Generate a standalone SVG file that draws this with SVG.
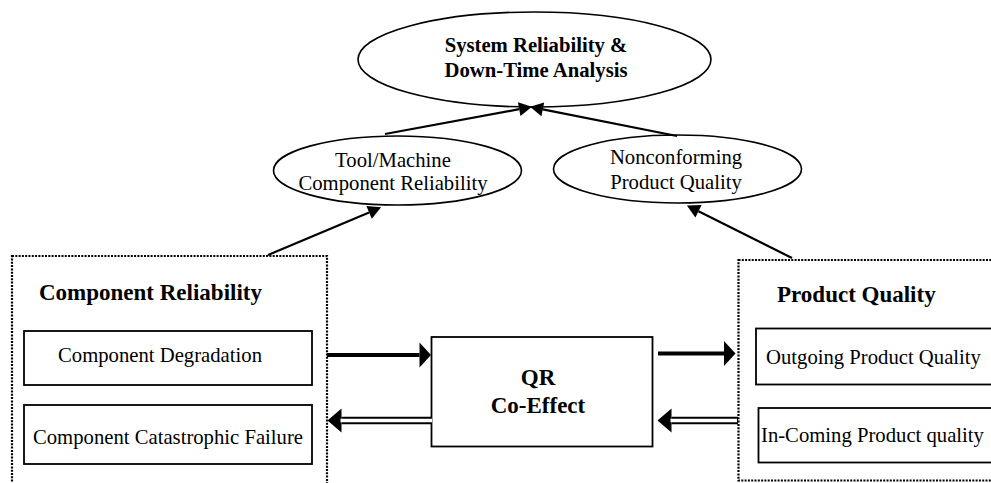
<svg xmlns="http://www.w3.org/2000/svg" width="991" height="483" viewBox="0 0 991 483">
<style>
  text { font-family: "Liberation Serif", "Times New Roman", serif; fill: #000; }
  .reg { font-size: 20.7px; }
  .title { font-size: 20.7px; font-weight: bold; }
  .head { font-size: 23px; font-weight: bold; }
  .shape { fill: #fff; stroke: #000; stroke-width: 1.8; }
  .ell { fill: #fff; stroke: #000; stroke-width: 1.6; }
  .group { fill: none; stroke: #000; stroke-width: 2.2; stroke-dasharray: 2 1.3; }
  .thin { fill: none; stroke: #000; stroke-width: 2.2; }
  .thick { fill: none; stroke: #000; stroke-width: 4; }
  .dbl { fill: none; stroke: #000; stroke-width: 7.6; }
  .dblgap { fill: none; stroke: #fff; stroke-width: 3.6; }
</style>
<defs>
  <marker id="hSmall" markerUnits="userSpaceOnUse" markerWidth="14" markerHeight="14" refX="0" refY="7" orient="auto" overflow="visible">
    <path d="M0,0 L13,7 L0,14 Z" fill="#000"/>
  </marker>
  <marker id="hBig" markerUnits="userSpaceOnUse" markerWidth="12" markerHeight="25" refX="0" refY="12.5" orient="auto" overflow="visible">
    <path d="M0,0 L11.5,12.5 L0,25 Z" fill="#000"/>
  </marker>
  <marker id="hDbl" markerUnits="userSpaceOnUse" markerWidth="14" markerHeight="24" refX="0" refY="12" orient="auto" overflow="visible">
    <path d="M0,0 L14,12 L0,24 Z" fill="#000"/>
  </marker>
</defs>
<rect width="991" height="483" fill="#fff"/>

<g id="system-reliability">
  <ellipse class="ell" cx="534.5" cy="59.5" rx="176.5" ry="47.5"/>
  <text class="title" x="536" y="52" text-anchor="middle">System Reliability &amp;</text>
  <text class="title" x="536" y="77" text-anchor="middle">Down-Time Analysis</text>
</g>

<g id="tool-machine">
  <ellipse class="ell" cx="397.5" cy="170.5" rx="124" ry="34.5"/>
  <text class="reg" x="393" y="167" text-anchor="middle">Tool/Machine</text>
  <text class="reg" x="393" y="190" text-anchor="middle">Component Reliability</text>
</g>

<g id="nonconforming">
  <ellipse class="ell" cx="677.5" cy="169" rx="124" ry="34"/>
  <text class="reg" x="676" y="163.5" text-anchor="middle">Nonconforming</text>
  <text class="reg" x="676" y="188.5" text-anchor="middle">Product Quality</text>
</g>

<g id="component-reliability">
  <rect class="group" x="12" y="256" width="315" height="240"/>
  <text class="head" x="39" y="300">Component Reliability</text>
  <g id="component-degradation">
    <rect class="shape" x="24" y="331" width="288" height="54"/>
    <text class="reg" x="160" y="362" text-anchor="middle">Component Degradation</text>
  </g>
  <g id="component-failure">
    <rect class="shape" x="24" y="405" width="288" height="59"/>
    <text class="reg" x="168" y="444" text-anchor="middle">Component Catastrophic Failure</text>
  </g>
</g>

<g id="qr-coeffect">
  <rect class="shape" x="431.5" y="337" width="221" height="109.5"/>
  <text class="head" x="538" y="385" text-anchor="middle">QR</text>
  <text class="head" x="538" y="413" text-anchor="middle">Co-Effect</text>
</g>

<g id="product-quality">
  <rect class="group" x="738.5" y="260" width="270" height="220.5"/>
  <text class="head" x="777" y="301.5">Product Quality</text>
  <g id="outgoing-quality">
    <rect class="shape" x="756" y="328.5" width="250" height="56"/>
    <text class="reg" x="766" y="364">Outgoing Product Quality</text>
  </g>
  <g id="incoming-quality">
    <rect class="shape" x="758.5" y="408" width="250" height="54.5"/>
    <text class="reg" x="761" y="441.5">In-Coming Product quality</text>
  </g>
</g>

<g id="connectors">
  <line class="thin" x1="385" y1="134" x2="519.2" y2="109.2" marker-end="url(#hSmall)"/>
  <line class="thin" x1="677" y1="136" x2="542.8" y2="109.3" marker-end="url(#hSmall)"/>
  <line class="thin" x1="268" y1="255" x2="369.1" y2="212.4" marker-end="url(#hSmall)"/>
  <line class="thin" x1="792" y1="258" x2="698.5" y2="211.3" marker-end="url(#hSmall)"/>
  <line class="thick" x1="327" y1="355" x2="419.5" y2="355" marker-end="url(#hBig)"/>
  <line class="thick" x1="658" y1="353.5" x2="724" y2="353.5" marker-end="url(#hBig)"/>
  <line class="dbl" x1="431" y1="420.5" x2="341.5" y2="420.5" marker-end="url(#hDbl)"/>
  <line class="dblgap" x1="432" y1="420.5" x2="340.5" y2="420.5"/>
  <line class="dbl" x1="738" y1="420.5" x2="671.5" y2="420.5" marker-end="url(#hDbl)"/>
  <line class="dblgap" x1="737" y1="420.5" x2="670.5" y2="420.5"/>
</g>
</svg>
